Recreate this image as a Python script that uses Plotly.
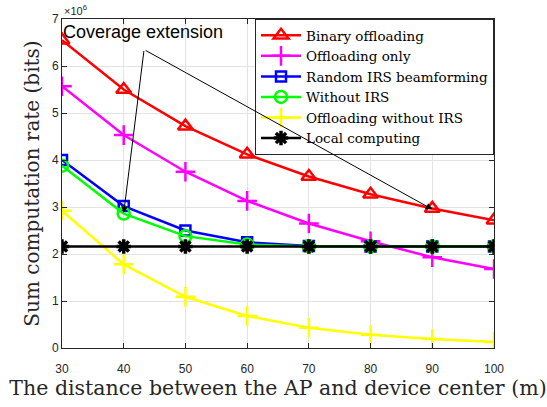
import plotly.graph_objects as go

distance = [30, 40, 50, 60, 70, 80, 90, 100]
# values in units of 1e6 bits
binary_offloading = [6.55, 5.50, 4.72, 4.12, 3.65, 3.27, 2.97, 2.72]
offloading_only = [5.57, 4.53, 3.75, 3.13, 2.65, 2.27, 1.93, 1.68]
random_irs = [4.00, 3.02, 2.50, 2.25, 2.17, 2.16, 2.16, 2.16]
without_irs = [3.88, 2.86, 2.38, 2.20, 2.16, 2.16, 2.16, 2.16]
offloading_without_irs = [2.92, 1.78, 1.09, 0.68, 0.43, 0.28, 0.19, 0.13]
local_computing = [2.16, 2.16, 2.16, 2.16, 2.16, 2.16, 2.16, 2.16]

names = ["Binary offloading", "Offloading only", "Random IRS beamforming",
         "Without IRS", "Offloading without IRS", "Local computing"]
series = [binary_offloading, offloading_only, random_irs, without_irs,
          offloading_without_irs, local_computing]
colors = ["#ff0000", "#ff00ff", "#0000ff", "#00ff00", "#ffff00", "#000000"]
symbols = ["triangle-up-open", "cross-thin-open", "square-open", "circle-open",
           "cross-thin-open", "asterisk-open"]
msizes = [13, 14, 10, 12, 14, 12]
mwidths = [2.5, 2.5, 2.5, 2.5, 2.5, 3.5]

SERIF = "DejaVu Serif"
SANS = "Liberation Sans"

fig = go.Figure()
for n, s, c, sym, ms, mw in zip(names, series, colors, symbols, msizes, mwidths):
    fig.add_trace(go.Scatter(
        x=distance, y=s, name=n, mode="lines+markers",
        line=dict(color=c, width=2.5),
        marker=dict(symbol=sym, size=ms, color=c, line=dict(color=c, width=mw)),
    ))

axis_common = dict(
    showline=True, linecolor="#262626", linewidth=1, mirror="ticks",
    ticks="inside", ticklen=5, tickcolor="#262626",
    showgrid=True, gridcolor="#e3e3e3", gridwidth=1, zeroline=False,
    tickfont=dict(family=SANS, size=12, color="#262626"),
)

fig.update_layout(
    width=547, height=407,
    margin=dict(l=62, r=53, t=16, b=59),
    paper_bgcolor="white", plot_bgcolor="white",
    xaxis=dict(range=[30, 100], tickvals=distance, ticklabelstandoff=10, **axis_common,
               title=dict(text="The distance between the AP and device center (m)",
                          font=dict(family=SERIF, size=20.5, color="#262626"),
                          standoff=0)),
    yaxis=dict(range=[0, 7], tickvals=[0, 1, 2, 3, 4, 5, 6, 7], **axis_common,
               title=dict(text="Sum computation rate (bits)",
                          font=dict(family=SERIF, size=20, color="#262626"),
                          standoff=6)),
    legend=dict(x=1.0, y=1.0, xanchor="right", yanchor="top",
                bgcolor="white", bordercolor="#262626", borderwidth=1,
                font=dict(family=SERIF, size=13.5, color="#000000"),
                tracegroupgap=0, itemwidth=40),
    showlegend=True,
)

# exponent label
fig.add_annotation(xref="paper", yref="paper", x=0.0, y=1.0, xanchor="left", yanchor="bottom",
                   text="×10<sup>6</sup>", showarrow=False,
                   font=dict(family=SANS, size=11, color="#262626"))

# Coverage extension annotation
fig.add_annotation(x=43.1, y=6.72, xref="x", yref="y", text="Coverage extension", showarrow=False,
                   font=dict(family=SANS, size=18, color="#000000"))
tail = (43.3, 6.35)
for hx, hy in [(40, 2.87), (90, 2.95)]:
    fig.add_annotation(x=hx, y=hy, xref="x", yref="y", ax=tail[0], ay=tail[1],
                       axref="x", ayref="y", text="", showarrow=True,
                       arrowhead=2, arrowsize=1.3, arrowwidth=1, arrowcolor="#000000")

fig.write_html("out.html")
